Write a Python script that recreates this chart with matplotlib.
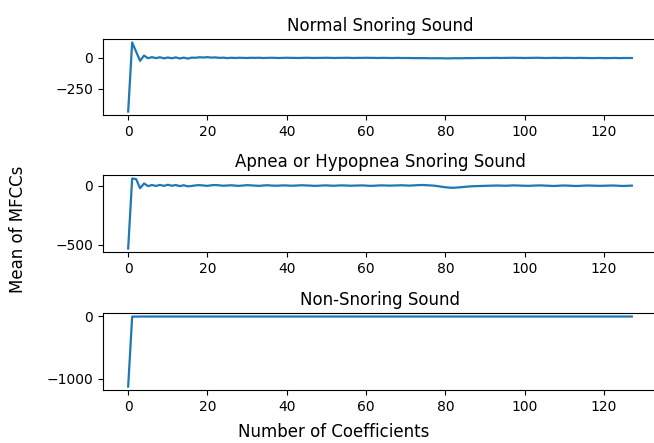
"""
Mean MFCC coefficients for three classes of sound.
"""
import numpy as np
import matplotlib
matplotlib.use("Agg")
import matplotlib.pyplot as plt


TITLES = ["Normal Snoring Sound",
          "Apnea or Hypopnea Snoring Sound",
          "Non-Snoring Sound"]

normal_mfcc = [
    -435, 125, 50, -24, 19, -3, 6, -2, 5, -4, 3, -3, 4, -5, 2, -6,
    2, 1, 5, 3, 6, 2, 4, 0, 2, -2, 1, -1, 1, 0, -1, 1,
    0, 1, -1, 0, 1, 0, -1, 0, 1, 0, 0, -1, 0, 1, 0, -1,
    0, 0, 1, 0, -1, 0, 0, 1, 0, -1, 0, 0, 1, 0, 0, -1,
    0, 0, -1, -1, 0, -1, -1, -1, -2, -2, -2, -2, -3, -3, -3, -3,
    -4, -4, -3, -3, -3, -2, -2, -2, -1, -1, -1, -1, 0, 0, -1, 0,
    0, 1, 0, 0, -1, 0, 0, 1, 0, -1, -1, 0, 0, -1, 0, 0,
    -1, -1, 0, -1, -1, -2, -1, -1, -2, -2, -1, -1, -2, -1, -1, -1,
]

apnea_mfcc = [
    -530, 60, 55, -22, 18, -4, 5, -3, 6, -2, 7, -1, 5, -4, 3, -6,
    -3, 2, 4, 1, -2, 3, 5, 2, -1, 1, 3, 0, -2, 1, 4, 2,
    0, -2, 1, 3, 1, -1, 0, 2, 1, -1, 0, 2, 3, 1, 0, -2,
    -1, 1, 2, 0, -1, 1, 2, 1, -1, 0, 1, 2, 0, -2, -1, 1,
    2, 1, 0, 1, 2, 3, 1, 0, 2, 4, 5, 4, 2, 0, -4, -9,
    -14, -17, -18, -16, -13, -10, -7, -5, -4, -3, -2, -1, 0, 1, 0, -1,
    0, 2, 1, 0, -1, -2, 0, 1, 2, 0, -1, -3, -2, 0, 1, 0,
    -2, -3, -2, 0, 1, 0, -1, -2, -1, 0, 1, 0, -2, -3, -1, 0,
]

non_snoring_mfcc = [
    -1120, -3, -2, -2, -1, -2, -1, -1, -1, -2, -1, -1, -1, -1, -1, -1,
    -1, -1, -1, -1, -1, -1, -1, -1, -1, -1, -1, -1, -1, -1, -1, -1,
    -1, -1, -1, -1, -1, -1, -1, -1, -1, -1, -1, -1, -1, -1, -1, -1,
    -1, -1, -1, -1, -1, -1, -1, -1, -1, -1, -1, -1, -1, -1, -1, -1,
    -1, -1, -1, -1, -1, -1, -1, -1, -1, -1, -1, -1, -1, -1, -1, -1,
    -1, -1, -1, -1, -1, -1, -1, -1, -1, -1, -1, -1, -1, -1, -1, -1,
    -1, -1, -1, -1, -1, -1, -1, -1, -1, -1, -1, -1, -1, -1, -1, -1,
    -1, -1, -1, -1, -1, -1, -1, -1, -1, -1, -1, -1, -1, -1, -1, -1,
]

Y_TICKS = [[-250, 0], [-500, 0], [-1000, 0]]

# axes boxes in pixels (top, bottom) measured off the 443 px tall picture
W, H = 654, 443
LEFT, RIGHT = 103, 657
ROWS = [(39, 115), (175, 252), (313, 390)]

fig = plt.figure(figsize=(W / 100, H / 100), dpi=100)

for (top, bottom), title, values, yt in zip(
        ROWS, TITLES, [normal_mfcc, apnea_mfcc, non_snoring_mfcc], Y_TICKS):
    ax = fig.add_axes([LEFT / W, 1 - bottom / H,
                       (RIGHT - LEFT) / W, (bottom - top) / H])
    ax.plot(np.arange(len(values)), values, color="#1f77b4", linewidth=1.6)
    ax.set_title(title, fontsize=12)
    ax.set_yticks(yt)
    ax.set_xticks([0, 20, 40, 60, 80, 100, 120])
    ax.tick_params(labelsize=10)

fig.text(334 / W, 1 - 432 / H, "Number of Coefficients",
         ha="center", va="center", fontsize=12)
fig.text(18 / W, 1 - 229 / H, "Mean of MFCCs",
         ha="center", va="center", rotation="vertical", fontsize=12)

plt.savefig("out.png", dpi=100)
plt.close()
